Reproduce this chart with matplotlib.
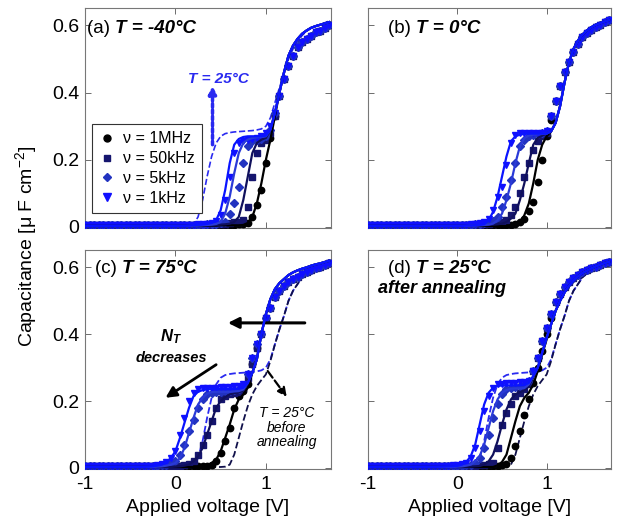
import numpy as np
import matplotlib
matplotlib.use('Agg')
import matplotlib.pyplot as plt
from matplotlib.lines import Line2D

plt.rcParams['font.family'] = ['Liberation Sans', 'DejaVu Sans']
plt.rcParams['mathtext.fontset'] = 'custom'
plt.rcParams['mathtext.rm'] = 'Liberation Sans'
plt.rcParams['mathtext.it'] = 'Liberation Sans:italic'
plt.rcParams['mathtext.bf'] = 'Liberation Sans:bold'
plt.rcParams['mathtext.bfit'] = 'Liberation Sans:italic:bold'
plt.rcParams['axes.unicode_minus'] = False

# applied voltage grid [V]: -1.0 ... 1.7, step 0.05 (55 points)
V = np.round(np.arange(-1.0, 1.7001, 0.05), 2)

freqs = ['1MHz', '50kHz', '5kHz', '1kHz']

# flat part below 0 V
neg_fit = [.003, .003, .003, .003, .003, .003, .003, .003, .003, .003,
           .003, .003, .003, .003, .003, .003, .003, .003, .003, .003]
neg_dat = [.005, .005, .005, .005, .005, .005, .005, .005, .005, .005,
           .005, .005, .005, .005, .005, .005, .005, .005, .005, .005]

# ---- T = 25 C before annealing (dashed references) ----
ref_1k = [.004, .004, .004, .004, .004, .004, .004, .004, .004, .004,
          .004, .004, .004, .004, .004, .004, .004, .004, .004, .004,
          .004, .004, .004, .005, .008, .030, .080, .150, .210, .250,
          .270, .278, .281, .283, .284, .285, .286, .287, .289, .292,
          .300, .325, .370, .415, .455, .500, .530, .550, .570, .583, .592, .598, .603, .608, .613]
ref_1M = neg_fit + [
          .003, .003, .003, .003, .003, .003, .003, .003, .003, .003,
          .003, .004, .010, .040, .090, .140, .185, .220, .245, .263,
          .280, .320, .370, .415, .455, .500, .530, .550, .570, .583, .592, .598, .603, .608, .613]

# ---- (a) T = -40 C ----
a_fit_1M = neg_fit + [
    .003, .003, .003, .003, .003, .003, .003, .004, .004, .004,
    .005, .005, .005, .005, .005, .006, .012, .030, .070, .130,
    .200, .260, .330, .400, .460, .510, .540, .560, .575, .585, .593, .598, .602, .606, .610]
a_fit_50k = neg_fit + [
    .003, .003, .003, .003, .003, .004, .004, .005, .005, .006,
    .007, .008, .010, .015, .030, .080, .150, .220, .250, .260,
    .265, .290, .340, .400, .460, .510, .540, .560, .575, .585, .593, .598, .602, .606, .610]
a_fit_5k = neg_fit + [
    .003, .003, .003, .003, .004, .004, .005, .006, .007, .009,
    .015, .040, .090, .160, .220, .250, .260, .265, .267, .268,
    .270, .290, .340, .400, .460, .510, .540, .560, .575, .585, .593, .598, .602, .606, .610]
a_fit_1k = neg_fit + [
    .003, .003, .003, .004, .005, .006, .007, .009, .012, .020,
    .050, .110, .190, .245, .262, .268, .270, .270, .270, .270,
    .272, .290, .340, .400, .460, .510, .540, .560, .575, .585, .593, .598, .602, .606, .610]
a_dat_1M = neg_dat + [
    .005, .005, .005, .005, .005, .005, .005, .005, .006, .006,
    .006, .006, .007, .007, .008, .009, .012, .030, .065, .110,
    .190, .265, .330, .390, .440, .480, .510, .535, .550, .560, .570, .580, .585, .593, .600]
a_dat_50k = neg_dat + [
    .005, .005, .005, .005, .006, .006, .006, .007, .007, .008,
    .009, .010, .012, .014, .016, .020, .060, .150, .220, .250,
    .260, .280, .330, .390, .440, .480, .510, .535, .550, .560, .570, .580, .585, .593, .600]
a_dat_5k = neg_dat + [
    .005, .005, .005, .006, .006, .006, .007, .008, .009, .010,
    .012, .015, .040, .070, .120, .190, .240, .255, .260, .262,
    .270, .290, .340, .390, .440, .480, .510, .535, .550, .560, .570, .580, .585, .593, .600]
a_dat_1k = neg_dat + [
    .005, .005, .006, .006, .007, .008, .009, .010, .012, .018,
    .035, .080, .150, .220, .250, .255, .260, .262, .265, .270,
    .280, .300, .340, .390, .440, .480, .510, .535, .550, .560, .570, .580, .585, .593, .600]

# ---- (b) T = 0 C ----
b_fit_1M = neg_fit + [
    .003, .003, .003, .003, .003, .003, .003, .003, .003, .003,
    .003, .003, .003, .005, .012, .035, .070, .130, .200, .245,
    .270, .285, .310, .360, .430, .490, .530, .555, .573, .585, .595, .602, .607, .612, .616]
b_fit_50k = neg_fit + [
    .003, .003, .003, .003, .004, .004, .005, .006, .007, .008,
    .010, .015, .025, .040, .080, .130, .190, .245, .265, .272,
    .278, .285, .310, .360, .430, .490, .530, .555, .573, .585, .595, .602, .607, .612, .616]
b_fit_5k = neg_fit + [
    .003, .003, .003, .004, .004, .005, .006, .007, .010, .020,
    .040, .080, .130, .190, .240, .265, .272, .275, .276, .277,
    .278, .285, .310, .360, .430, .490, .530, .555, .573, .585, .595, .602, .607, .612, .616]
b_fit_1k = neg_fit + [
    .003, .003, .004, .004, .005, .006, .008, .020, .045, .090,
    .150, .210, .255, .270, .275, .277, .278, .278, .278, .278,
    .278, .285, .310, .360, .430, .490, .530, .555, .573, .585, .595, .602, .607, .612, .616]
b_dat_1M = neg_dat + [
    .005, .005, .005, .005, .005, .005, .005, .005, .005, .005,
    .005, .005, .007, .010, .015, .025, .047, .075, .135, .200,
    .270, .320, .375, .420, .460, .490, .520, .545, .565, .578, .587, .594, .600, .610, .615]
b_dat_50k = neg_dat + [
    .005, .005, .005, .005, .006, .007, .008, .010, .012, .014,
    .016, .020, .035, .060, .100, .150, .190, .230, .255, .270,
    .280, .330, .375, .420, .460, .490, .520, .545, .565, .578, .587, .594, .600, .610, .615]
b_dat_5k = neg_dat + [
    .005, .005, .006, .007, .008, .009, .011, .014, .018, .030,
    .060, .090, .140, .190, .240, .260, .270, .275, .278, .280,
    .285, .330, .375, .420, .460, .490, .520, .545, .565, .578, .587, .594, .600, .610, .615]
b_dat_1k = neg_dat + [
    .005, .006, .007, .008, .010, .012, .015, .025, .050, .090,
    .120, .185, .250, .275, .280, .280, .280, .280, .280, .280,
    .285, .330, .375, .420, .460, .490, .520, .545, .565, .578, .587, .594, .600, .610, .615]

# ---- (c) T = 75 C ----
c_fit_1M = neg_fit + [
    .003, .003, .003, .003, .003, .003, .003, .008, .015, .025,
    .050, .090, .130, .175, .205, .220, .240, .285, .325, .400,
    .460, .505, .535, .553, .565, .577, .585, .591, .596, .600, .605, .609, .612, .616, .620]
c_fit_50k = neg_fit + [
    .004, .005, .007, .010, .020, .035, .060, .100, .140, .180,
    .200, .212, .220, .224, .226, .232, .252, .285, .325, .400,
    .460, .505, .535, .553, .565, .577, .585, .591, .596, .600, .605, .609, .612, .616, .620]
c_fit_5k = [
    .003, .003, .003, .003, .003, .003, .003, .003, .003, .003,
    .003, .003, .003, .003, .003, .003, .004, .005, .007, .010,
    .015, .030, .060, .105, .150, .190, .210, .222, .227, .228,
    .228, .228, .228, .229, .230, .235, .255, .285, .325, .400,
    .460, .505, .535, .553, .565, .577, .585, .591, .596, .600, .605, .609, .612, .616, .620]
c_fit_1k = [
    .003, .003, .003, .003, .003, .003, .003, .003, .003, .003,
    .003, .003, .003, .003, .004, .005, .007, .010, .017, .030,
    .050, .090, .135, .180, .215, .228, .233, .235, .236, .236,
    .236, .236, .236, .236, .237, .240, .255, .285, .325, .400,
    .460, .505, .535, .553, .565, .577, .585, .591, .596, .600, .605, .609, .612, .616, .620]
c_dat_1M = neg_dat + [
    .005, .005, .005, .005, .005, .005, .005, .007, .010, .020,
    .045, .080, .120, .180, .215, .230, .250, .310, .360, .400,
    .450, .480, .510, .530, .545, .556, .564, .572, .580, .587, .592, .597, .600, .607, .612]
c_dat_50k = neg_dat + [
    .006, .007, .008, .011, .020, .040, .070, .100, .140, .180,
    .205, .215, .220, .223, .226, .240, .270, .310, .360, .400,
    .450, .480, .510, .530, .545, .556, .564, .572, .580, .587, .592, .597, .600, .607, .612]
c_dat_5k = [
    .005, .005, .005, .005, .005, .005, .005, .005, .005, .005,
    .005, .005, .005, .005, .005, .005, .006, .008, .010, .014,
    .020, .040, .070, .110, .145, .180, .205, .220, .225, .227,
    .228, .229, .230, .232, .235, .245, .280, .330, .370, .400,
    .450, .480, .510, .530, .545, .556, .564, .572, .580, .587, .592, .597, .600, .607, .612]
c_dat_1k = [
    .005, .005, .005, .005, .005, .005, .005, .005, .005, .005,
    .005, .005, .005, .005, .006, .007, .009, .012, .018, .030,
    .050, .100, .150, .200, .225, .235, .240, .240, .240, .240,
    .242, .242, .243, .244, .245, .250, .280, .330, .370, .400,
    .450, .480, .510, .530, .545, .556, .564, .572, .580, .587, .592, .597, .600, .607, .612]

# ---- (d) T = 25 C after annealing ----
d_fit_1M = neg_fit + [
    .003, .003, .003, .003, .003, .003, .003, .003, .003, .008,
    .018, .040, .090, .140, .185, .210, .225, .250, .290, .340,
    .385, .430, .470, .500, .525, .545, .560, .573, .583, .590, .597, .603, .608, .613, .617]
d_fit_50k = neg_fit + [
    .003, .003, .004, .004, .005, .006, .010, .020, .040, .080,
    .130, .175, .205, .220, .227, .232, .245, .270, .300, .345,
    .390, .430, .470, .500, .525, .545, .560, .573, .583, .590, .597, .603, .608, .613, .617]
d_fit_5k = neg_fit + [
    .004, .005, .007, .010, .020, .035, .070, .120, .170, .205,
    .225, .233, .237, .238, .238, .239, .250, .275, .300, .345,
    .390, .430, .470, .500, .525, .545, .560, .573, .583, .590, .597, .603, .608, .613, .617]
d_fit_1k = [
    .003, .003, .003, .003, .003, .003, .003, .003, .003, .003,
    .003, .003, .003, .003, .003, .003, .004, .004, .005, .005,
    .006, .010, .018, .035, .070, .130, .190, .225, .240, .245,
    .247, .247, .247, .247, .247, .248, .255, .275, .300, .345,
    .390, .430, .470, .500, .525, .545, .560, .573, .583, .590, .597, .603, .608, .613, .617]
d_dat_1M = neg_dat + [
    .005, .005, .005, .005, .005, .005, .005, .005, .005, .006,
    .008, .012, .030, .065, .110, .160, .205, .255, .300, .350,
    .400, .450, .495, .520, .540, .555, .567, .577, .585, .592, .597, .602, .607, .612, .616]
d_dat_50k = neg_dat + [
    .005, .005, .006, .006, .007, .008, .009, .011, .015, .060,
    .130, .165, .190, .215, .225, .235, .250, .290, .330, .380,
    .420, .460, .495, .520, .540, .555, .567, .577, .585, .592, .597, .602, .607, .612, .616]
d_dat_5k = neg_dat + [
    .006, .007, .008, .010, .015, .030, .060, .100, .150, .190,
    .220, .235, .240, .242, .245, .248, .260, .290, .330, .380,
    .420, .460, .495, .520, .540, .555, .567, .577, .585, .592, .597, .602, .607, .612, .616]
d_dat_1k = [
    .005, .005, .005, .005, .005, .005, .005, .005, .005, .005,
    .005, .005, .005, .005, .005, .005, .006, .006, .007, .008,
    .010, .012, .015, .030, .060, .110, .170, .215, .240, .250,
    .252, .253, .254, .255, .256, .258, .260, .290, .330, .380,
    .420, .460, .495, .520, .540, .555, .567, .577, .585, .592, .597, .602, .607, .612, .616]

# styles per frequency: 1MHz, 50kHz, 5kHz, 1kHz
mk_cols = ['black', '#15156e', '#2233c0', '#1010ff']
ln_cols = ['black', '#10105c', '#2a3ad8', '#0a14ff']
markers = ['o', 's', 'D', 'v']
msizes = [4.6, 4.2, 3.8, 4.8]
blue_ref = '#2a2af0'

panels = [
    ('(a)', 'T = -40°C', [a_fit_1M, a_fit_50k, a_fit_5k, a_fit_1k],
     [a_dat_1M, a_dat_50k, a_dat_5k, a_dat_1k]),
    ('(b)', 'T = 0°C', [b_fit_1M, b_fit_50k, b_fit_5k, b_fit_1k],
     [b_dat_1M, b_dat_50k, b_dat_5k, b_dat_1k]),
    ('(c)', 'T = 75°C', [c_fit_1M, c_fit_50k, c_fit_5k, c_fit_1k],
     [c_dat_1M, c_dat_50k, c_dat_5k, c_dat_1k]),
    ('(d)', 'T = 25°C', [d_fit_1M, d_fit_50k, d_fit_5k, d_fit_1k],
     [d_dat_1M, d_dat_50k, d_dat_5k, d_dat_1k]),
]

W, H = 621, 521
fig = plt.figure(figsize=(W / 100, H / 100), dpi=100)
boxes = [(85, 8, 331, 228), (368, 8, 611, 228), (85, 250, 331, 469), (368, 250, 611, 469)]
axs = []
for (x0, y0, x1, y1) in boxes:
    axs.append(fig.add_axes([x0 / W, 1 - y1 / H, (x1 - x0) / W, (y1 - y0) / H]))

for k, (ax, (tag, temp, fits, dats)) in enumerate(zip(axs, panels)):
    if k == 0:
        ax.plot(V, ref_1k, '--', color=blue_ref, lw=1.2, zorder=2)
    if k >= 2:
        ax.plot(V, ref_1k, '--', color=blue_ref, lw=1.3, zorder=2)
        ax.plot(V, ref_1M, '--', color='#10104a', lw=1.3, zorder=2)
    for i in range(4):
        ax.plot(V, dats[i], ls='none', marker=markers[i], ms=msizes[i],
                color=mk_cols[i], mec=mk_cols[i], zorder=3)
    for i in range(4):
        ax.plot(V, fits[i], '-', color=ln_cols[i], lw=1.6, zorder=4)

    ax.set_xlim(-1, 1.72)
    ax.set_ylim(-0.003, 0.652)
    ax.set_xticks([-1, 0, 1])
    ax.set_yticks([0, 0.2, 0.4, 0.6])
    ax.set_yticklabels(['0', '0.2', '0.4', '0.6'])
    ax.tick_params(direction='in', top=True, right=True, length=4, width=0.6,
                   labelsize=14, colors='#555555', labelcolor='black')
    ax.tick_params(axis='x', pad=5)
    ax.tick_params(axis='y', pad=4)
    for s in ax.spines.values():
        s.set_color('#777777')
        s.set_linewidth(0.8)
    if k in (1, 3):
        ax.tick_params(labelleft=False)
    if k in (0, 1):
        ax.tick_params(labelbottom=False)
    else:
        ax.set_xlabel('Applied voltage [V]', fontsize=14, labelpad=4)

    tx = 0.008 if k == 0 else (0.04 if k == 2 else 0.082)
    ty = 0.905 if k < 2 else 0.915
    t = ax.text(tx, ty, tag + ' ', transform=ax.transAxes, fontsize=13.5,
                va='center', ha='left')
    ax.annotate(temp, xy=(1, 0.5), xycoords=t, va='center', ha='left',
                fontsize=13.5, style='italic', weight='bold')

# legend in (a)
handles = [Line2D([], [], ls='none', marker=markers[i], ms=msizes[i] + 0.4,
                  color=mk_cols[i]) for i in range(4)]
leg = axs[0].legend(handles, ['ν = ' + f for f in freqs], loc='lower left',
                    bbox_to_anchor=(0.028, 0.068), borderaxespad=0, fontsize=11.5,
                    fancybox=False, edgecolor='#333333', framealpha=1,
                    handlelength=1.0, handletextpad=0.5, labelspacing=0.3,
                    borderpad=0.45)
leg.get_frame().set_linewidth(0.8)

# (a) annotation: T = 25 C reference
axs[0].annotate('', xy=(0.41, 0.42), xytext=(0.41, 0.245),
                arrowprops=dict(arrowstyle='-|>', lw=2.5, ls=(0, (1, 0.8)),
                                color=blue_ref, mutation_scale=11, shrinkA=0, shrinkB=0))
axs[0].text(0.47, 0.44, 'T = 25°C', color=blue_ref, fontsize=11, style='italic',
            weight='bold', ha='center', va='center')

# (c) annotations
axc = axs[2]
axc.annotate('', xy=(0.58, 0.434), xytext=(1.43, 0.434),
             arrowprops=dict(arrowstyle='-|>', lw=2.2, color='black',
                             mutation_scale=16, shrinkA=0, shrinkB=0))
axc.annotate('', xy=(-0.11, 0.21), xytext=(0.45, 0.309),
             arrowprops=dict(arrowstyle='-|>', lw=2.0, color='black',
                             mutation_scale=16, shrinkA=0, shrinkB=0))
axc.text(-0.05, 0.394, r'$\mathbfit{N}_{\mathbfit{T}}$', fontsize=12,
         ha='center', va='center')
axc.text(-0.05, 0.33, 'decreases', fontsize=10.5, style='italic', weight='bold',
         ha='center', va='center')
axc.annotate('', xy=(1.23, 0.213), xytext=(1.02, 0.29),
             arrowprops=dict(arrowstyle='-|>', lw=1.6, ls='--', color='black',
                             mutation_scale=13, shrinkA=0, shrinkB=0))
axc.text(1.23, 0.12, 'T = 25°C\nbefore\nannealing', fontsize=10, style='italic',
         ha='center', va='center', linespacing=1.05, multialignment='center')

# (d) second line
axs[3].text(0.041, 0.826, 'after annealing', transform=axs[3].transAxes,
            fontsize=13, style='italic', weight='bold', va='center', ha='left')

fig.text(0.042, 0.528, 'Capacitance [μ F cm$^{-2}$]', rotation=90, fontsize=14,
         ha='center', va='center')

fig.savefig('out.png', dpi=100)
